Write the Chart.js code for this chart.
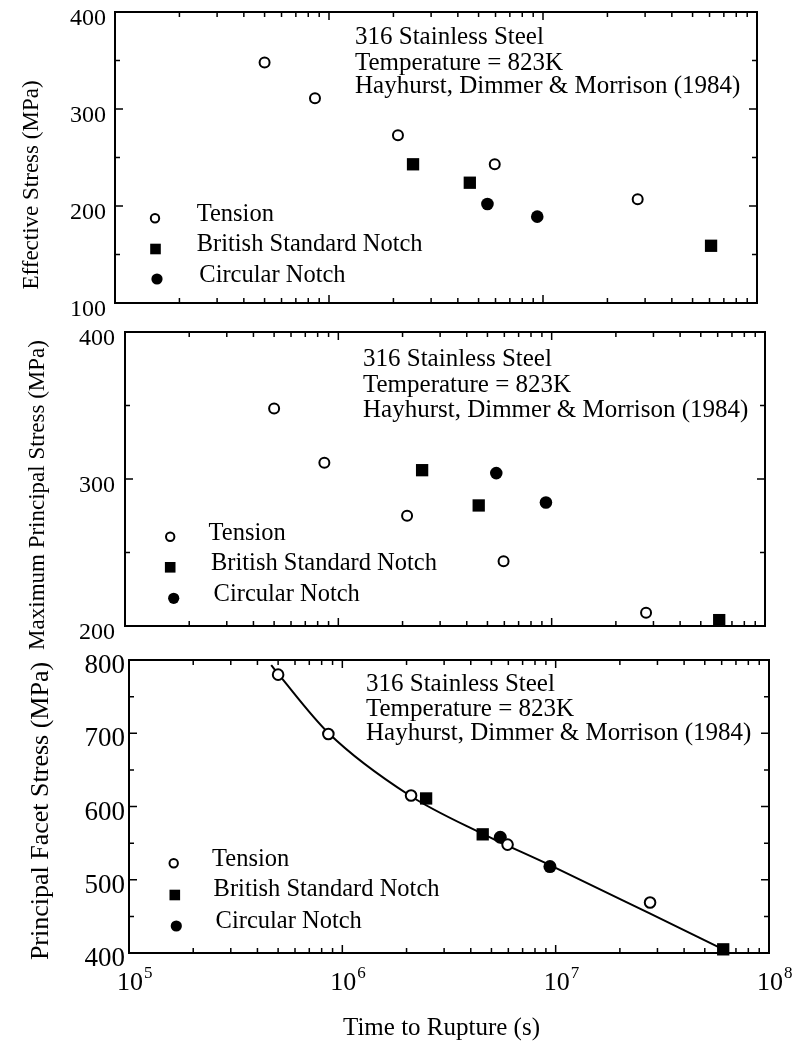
<!DOCTYPE html>
<html><head><meta charset="utf-8">
<script src="https://cdn.jsdelivr.net/npm/chart.js@4.4.1/dist/chart.umd.min.js"></script>
<style>
html,body{margin:0;padding:0;background:#fff;}
#wrap{position:relative;width:801px;height:1041px;overflow:hidden;background:#fff;}
canvas{position:absolute;left:0;}
</style></head><body>
<div id="wrap">
<canvas id="c1" width="801" height="330" style="top:0px"></canvas>
<canvas id="c2" width="801" height="335" style="top:320px"></canvas>
<canvas id="c3" width="801" height="396" style="top:645px"></canvas>
</div>
<script>
// ---------------- data ----------------
const seriesLabels = ['Tension', 'British Standard Notch', 'Circular Notch'];
const tensionTime = [5.0e5, 8.6e5, 2.1e6, 5.95e6, 2.77e7];
const bsnTime     = [2.47e6, 4.55e6, 6.1e7];
const circTime    = [5.5e6, 9.4e6];

const effTension = [348, 311, 273, 243, 207];
const effBSN     = [243, 224, 159];
const effCirc    = [202, 189];

const mpsTension = [348, 311, 275, 244, 209];
const mpsBSN     = [306, 282, 204];
const mpsCirc    = [304, 284];

const pfsTension = [780, 699, 615, 548, 469];
const pfsBSN     = [611, 562, 405];
const pfsCirc    = [558, 518];

const fitTime   = [4.64e5, 5.04e5, 8.63e5, 2.07e6, 4.52e6, 9.4e6, 2.76e7, 6.1e7];
const fitStress = [793, 780, 700, 615, 563, 520, 454, 405];

const panelTitles = ['Effective Stress (MPa)', 'Maximum Principal Stress (MPa)', 'Principal Facet Stress (MPa)'];
const annotationLines = ['316 Stainless Steel', 'Temperature = 823K', 'Hayhurst, Dimmer & Morrison (1984)'];
const xTickValues = [1e5, 1e6, 1e7, 1e8];
const xTickBase = '10';
const xTickExponents = ['5', '6', '7', '8'];
const xTitle = 'Time to Rupture (s)';

// ---------------- setup ----------------
const FONT = "'Liberation Serif', 'Times New Roman', Times, serif";
Chart.defaults.font.family = FONT;
Chart.defaults.color = '#000';

function pts(xs, ys) { return xs.map((x, i) => ({x: x, y: ys[i]})); }

function makeDatasets(tens, bsn, circ, withFit) {
  const ds = [
    {label: seriesLabels[0], data: pts(tensionTime, tens), pointStyle: 'circle', pointRadius: withFit ? 5.3 : 5,
     pointBorderWidth: 2, pointBackgroundColor: '#fff', pointBorderColor: '#000', showLine: false, order: 1, clip: false},
    {label: seriesLabels[1], data: pts(bsnTime, bsn), pointStyle: 'rect', pointRadius: 8.7,
     pointBorderWidth: 0, pointBackgroundColor: '#000', pointBorderColor: '#000', showLine: false, order: 1, clip: false},
    {label: seriesLabels[2], data: pts(circTime, circ), pointStyle: 'circle', pointRadius: withFit ? 6.5 : 6.3,
     pointBorderWidth: 0, pointBackgroundColor: '#000', pointBorderColor: '#000', showLine: false, order: 1, clip: false}
  ];
  if (withFit) {
    ds.push({label: 'fit', data: pts(fitTime, fitStress), showLine: true, borderColor: '#000', borderWidth: 2,
             pointRadius: 0, cubicInterpolationMode: 'monotone', order: 5, clip: false, fill: false});
  }
  return ds;
}

function logTickList() {
  const out = [];
  for (let e = 5; e < 8; e++) for (let m = 1; m <= 9; m++) out.push(m * Math.pow(10, e));
  out.push(1e8);
  return out;
}

function zeroPad(s) { s.paddingTop = 0; s.paddingBottom = 0; s.paddingLeft = 0; s.paddingRight = 0; }

function makeScales(ymin, ymax, yWidth, tickSize, tickPad, labelOffset) {
  return {
    x: {type: 'logarithmic', position: 'bottom', min: 1e5, max: 1e8,
        grid: {display: false, drawTicks: false}, border: {display: false},
        ticks: {display: false},
        afterBuildTicks: s => { s.ticks = logTickList().map(v => ({value: v})); },
        afterFit: s => { s.height = 10; zeroPad(s); }},
    y: {type: 'linear', position: 'left', min: ymin, max: ymax,
        grid: {display: false, drawTicks: false}, border: {display: false},
        ticks: {stepSize: 50, autoSkip: false, padding: tickPad, labelOffset: labelOffset,
                font: {size: tickSize, family: FONT},
                callback: v => (v % 100 === 0 ? String(v) : '')},
        afterFit: s => { s.width = yWidth; zeroPad(s); }}
  };
}

const decor = {
  id: 'decor',
  beforeDatasetsDraw(chart, args, o) {
    const ctx = chart.ctx, a = chart.chartArea, xs = chart.scales.x, ys = chart.scales.y;
    ctx.save();
    ctx.strokeStyle = '#000';
    ctx.lineWidth = 1.5;
    ctx.beginPath();
    xs.ticks.forEach(t => {
      const px = xs.getPixelForValue(t.value);
      const lg = Math.log10(t.value);
      const L = Math.abs(lg - Math.round(lg)) < 1e-9 ? 8 : 5;
      ctx.moveTo(px, a.bottom); ctx.lineTo(px, a.bottom - L);
      ctx.moveTo(px, a.top); ctx.lineTo(px, a.top + L);
    });
    ys.ticks.forEach(t => {
      const py = ys.getPixelForValue(t.value);
      const L = t.value % 100 === 0 ? 8 : 5;
      ctx.moveTo(a.left, py); ctx.lineTo(a.left + L, py);
      ctx.moveTo(a.right, py); ctx.lineTo(a.right - L, py);
    });
    ctx.stroke();
    ctx.lineWidth = 2;
    ctx.strokeRect(a.left, a.top, a.right - a.left, a.bottom - a.top);
    ctx.restore();
  },
  afterDraw(chart, args, o) {
    const ctx = chart.ctx, T = o.top;
    ctx.save();
    ctx.fillStyle = '#000';
    // y-axis title
    ctx.save();
    ctx.font = o.title.size + 'px ' + FONT;
    ctx.textAlign = 'center'; ctx.textBaseline = 'middle';
    ctx.translate(o.title.x, o.title.y - T); ctx.rotate(-Math.PI / 2);
    ctx.fillText(o.title.text, 0, 0);
    ctx.restore();
    // annotation
    ctx.font = o.ann.size + 'px ' + FONT;
    ctx.textAlign = 'left'; ctx.textBaseline = 'alphabetic';
    annotationLines.forEach((s, i) => ctx.fillText(s, o.ann.x, o.ann.base[i] - T));
    // legend
    ctx.font = o.legend.size + 'px ' + FONT;
    ctx.textBaseline = 'middle';
    seriesLabels.forEach((lab, i) => {
      const mx = o.legend.mk[i][0], my = o.legend.mk[i][1] - T;
      ctx.beginPath();
      if (i === 0) {
        ctx.arc(mx, my, 4.2, 0, 2 * Math.PI);
        ctx.fillStyle = '#fff'; ctx.fill();
        ctx.lineWidth = 2; ctx.strokeStyle = '#000'; ctx.stroke();
      } else if (i === 1) {
        ctx.fillStyle = '#000'; ctx.fillRect(mx - 5.3, my - 5.3, 10.6, 10.6);
      } else {
        ctx.arc(mx, my, 5.6, 0, 2 * Math.PI);
        ctx.fillStyle = '#000'; ctx.fill();
      }
      ctx.fillStyle = '#000';
      ctx.fillText(lab, o.legend.tx[i][0], o.legend.tx[i][1] - T);
    });
    // x tick labels & title
    if (o.xlabels) {
      const xs = chart.scales.x;
      xTickValues.forEach((v, i) => {
        const px = xs.getPixelForValue(v);
        ctx.font = '26px ' + FONT; ctx.textAlign = 'center'; ctx.textBaseline = 'alphabetic';
        ctx.fillText(xTickBase, px + 1, 990 - T);
        const w = ctx.measureText(xTickBase).width;
        ctx.font = '17px ' + FONT; ctx.textAlign = 'left';
        ctx.fillText(xTickExponents[i], px + 1 + w / 2 + 1, 978 - T);
      });
      ctx.font = '25px ' + FONT; ctx.textAlign = 'center'; ctx.textBaseline = 'middle';
      ctx.fillText(xTitle, 441.5, 1028 - T);
    }
    ctx.restore();
  }
};

function makeChart(id, datasets, scales, padding, decorOpts) {
  return new Chart(document.getElementById(id), {
    type: 'scatter',
    data: {datasets: datasets},
    options: {
      responsive: false, animation: false, events: [],
      layout: {padding: padding},
      scales: scales,
      plugins: {legend: {display: false}, tooltip: {enabled: false}, decor: decorOpts}
    },
    plugins: [decor]
  });
}

// Panel 1: chart area 115..757 x 12..303
makeChart('c1', makeDatasets(effTension, effBSN, effCirc, false),
  makeScales(100, 400, 115, 24, 9, 7),
  {left: 0, right: 44, top: 12, bottom: 17},
  {top: 0, title: {text: panelTitles[0], x: 31.7, y: 185, size: 23},
   ann: {x: 355, base: [44, 70, 93], size: 25},
   legend: {size: 24.5, mk: [[155, 218.3], [155.5, 249], [157, 279]], tx: [[196.7, 215], [196.7, 245], [199.3, 276]]},
   xlabels: false});

// Panel 2: chart area 125..765 x 332..626
makeChart('c2', makeDatasets(mpsTension, mpsBSN, mpsCirc, false),
  makeScales(200, 400, 125, 24, 10, 7),
  {left: 0, right: 36, top: 12, bottom: 19},
  {top: 320, title: {text: panelTitles[1], x: 38, y: 495, size: 23},
   ann: {x: 363, base: [366, 392, 417], size: 25},
   legend: {size: 24.5, mk: [[170.2, 536.7], [170.2, 567.3], [173.7, 598.3]], tx: [[208.5, 533.3], [211, 563.3], [213.6, 595]]},
   xlabels: false});

// Panel 3: chart area 129..769 x 660..953
makeChart('c3', makeDatasets(pfsTension, pfsBSN, pfsCirc, true),
  makeScales(400, 800, 129, 27, 4, 6),
  {left: 0, right: 32, top: 15, bottom: 78},
  {top: 645, title: {text: panelTitles[2], x: 41, y: 811, size: 26},
   ann: {x: 366, base: [691, 716, 740], size: 25},
   legend: {size: 24.5, mk: [[173.7, 863.3], [174.8, 895], [176.3, 926]], tx: [[212, 860], [213.6, 890], [215.6, 921.7]]},
   xlabels: true});
</script>
</body></html>
